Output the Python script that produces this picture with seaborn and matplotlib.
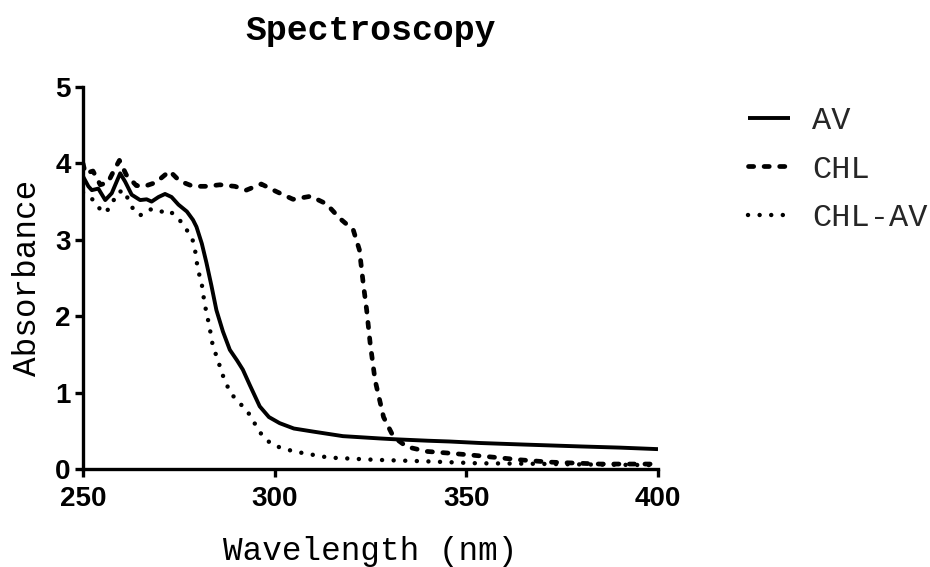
import matplotlib
matplotlib.use("Agg")
import matplotlib.pyplot as plt
import seaborn as sns
import pandas as pd

# ---- data ----
wl_av = [250, 251.4, 252.3, 254, 255.8, 257.5, 259.7, 261, 262.7, 264.9, 266.6, 267.9,
         269.7, 271.4, 273.1, 274.9, 277.1, 278.7, 279.6, 281, 282.2, 283.5, 284.8,
         286.5, 288.3, 290.2, 291.7, 293.5, 296.1, 298.5, 301.3, 305, 310, 317.8,
         327.4, 331, 340, 345.6, 353.7, 365, 380, 390, 400]
abs_av = [3.83, 3.70, 3.65, 3.67, 3.52, 3.61, 3.87, 3.76, 3.59, 3.52, 3.53, 3.50,
          3.56, 3.60, 3.56, 3.46, 3.37, 3.26, 3.17, 2.95, 2.70, 2.40, 2.08,
          1.80, 1.56, 1.42, 1.30, 1.10, 0.82, 0.68, 0.60, 0.53, 0.49, 0.43,
          0.40, 0.39, 0.37, 0.36, 0.34, 0.32, 0.295, 0.28, 0.26]

wl_chl = [250, 250.6, 252.6, 254.5, 256.5, 257.8, 259.5, 261.3, 263.9, 266, 269,
          272.6, 275.2, 278.7, 282.2, 285.7, 289.6, 292.6, 296.5, 300.5, 304.8,
          309.4, 313.5, 317, 320.5, 322.1, 323.1, 324, 324.9, 326.2, 328.4, 331,
          334.5, 339.7, 344.9, 351.8, 358, 364, 371.8, 384.8, 400]
abs_chl = [4.00, 3.87, 3.90, 3.72, 3.75, 3.88, 4.04, 3.85, 3.71, 3.70, 3.75,
           3.90, 3.77, 3.70, 3.70, 3.72, 3.70, 3.65, 3.73, 3.63, 3.53,
           3.57, 3.47, 3.28, 3.13, 2.87, 2.43, 2.08, 1.65, 1.16, 0.68, 0.42,
           0.29, 0.23, 0.21, 0.18, 0.15, 0.12, 0.09, 0.065, 0.065]

wl_mix = [250, 252.3, 253.6, 255.8, 257.5, 258.8, 260.6, 261.9, 263.2, 264.9, 267.5,
          269.7, 272.3, 274.9, 276.5, 278.4, 279.1, 280, 280.9, 281.7, 283, 283.9,
          285.2, 286.1, 288.3, 290.4, 292.6, 295.7, 297, 299.6, 305, 314, 326.3,
          339.7, 352.8, 365, 380, 400]
abs_mix = [3.62, 3.54, 3.44, 3.35, 3.46, 3.61, 3.65, 3.52, 3.39, 3.32, 3.40,
           3.36, 3.39, 3.28, 3.17, 3.03, 2.91, 2.60, 2.45, 2.17, 1.86, 1.60,
           1.43, 1.27, 1.01, 0.88, 0.78, 0.52, 0.42, 0.31, 0.23, 0.15, 0.12,
           0.10, 0.075, 0.07, 0.06, 0.05]

series_names = ["AV", "CHL", "CHL-AV"]
x_ticks = [250, 300, 350, 400]
y_ticks = [0, 1, 2, 3, 4, 5]

# ---- style ----
sns.set_theme(style="ticks")
plt.rcParams["font.family"] = ["Liberation Mono", "DejaVu Sans"]

fig = plt.figure(figsize=(9.3, 5.67), dpi=100)
ax = fig.add_axes([83 / 930, 1 - 469 / 567, 575 / 930, 382 / 567])

df_av = pd.DataFrame({"wl": wl_av, "a": abs_av})
df_chl = pd.DataFrame({"wl": wl_chl, "a": abs_chl})
df_mix = pd.DataFrame({"wl": wl_mix, "a": abs_mix})

sns.lineplot(data=df_av, x="wl", y="a", ax=ax, color="black", linewidth=2.8,
             label=series_names[0], solid_joinstyle="round", solid_capstyle="butt")
sns.lineplot(data=df_chl, x="wl", y="a", ax=ax, color="black", linewidth=3.4,
             linestyle=(0, (1.1, 2.2)), dash_capstyle="round",
             label=series_names[1])
sns.lineplot(data=df_mix, x="wl", y="a", ax=ax, color="black", linewidth=3.2,
             linestyle=(0, (0.01, 2.6)), dash_capstyle="round",
             label=series_names[2])

ax.set_xlim(250, 400)
ax.set_ylim(0, 5)
ax.set_xticks(x_ticks)
ax.set_yticks(y_ticks)

for s in ["top", "right"]:
    ax.spines[s].set_visible(False)
for s in ["left", "bottom"]:
    ax.spines[s].set_linewidth(2.4)
    ax.spines[s].set_color("black")

ax.tick_params(axis="both", direction="out", length=6, width=2.4, color="black")
ax.tick_params(axis="x", pad=6)
ax.tick_params(axis="y", pad=3)
for lab in ax.get_xticklabels() + ax.get_yticklabels():
    lab.set_fontfamily("Liberation Sans")
    lab.set_fontweight("bold")
    lab.set_fontsize(20)
    lab.set_color("black")

ax.set_xlabel("Wavelength (nm)", fontsize=23.5, color="black")
ax.set_ylabel("Absorbance", fontsize=23.5, color="black")
ax.xaxis.set_label_coords(0.5, -0.175)
ax.yaxis.set_label_coords(-0.07, 0.5)

ax.set_title("Spectroscopy", fontsize=25, fontweight="bold", pad=34, color="black")

leg = ax.legend(loc="upper left", bbox_to_anchor=(748 / 930, 1 - 106 / 567),
                bbox_transform=fig.transFigure, frameon=False, fontsize=23,
                handlelength=1.3, handletextpad=0.7, labelspacing=0.58,
                borderpad=0, borderaxespad=0)

fig.savefig("out.png", dpi=100, facecolor="white")
